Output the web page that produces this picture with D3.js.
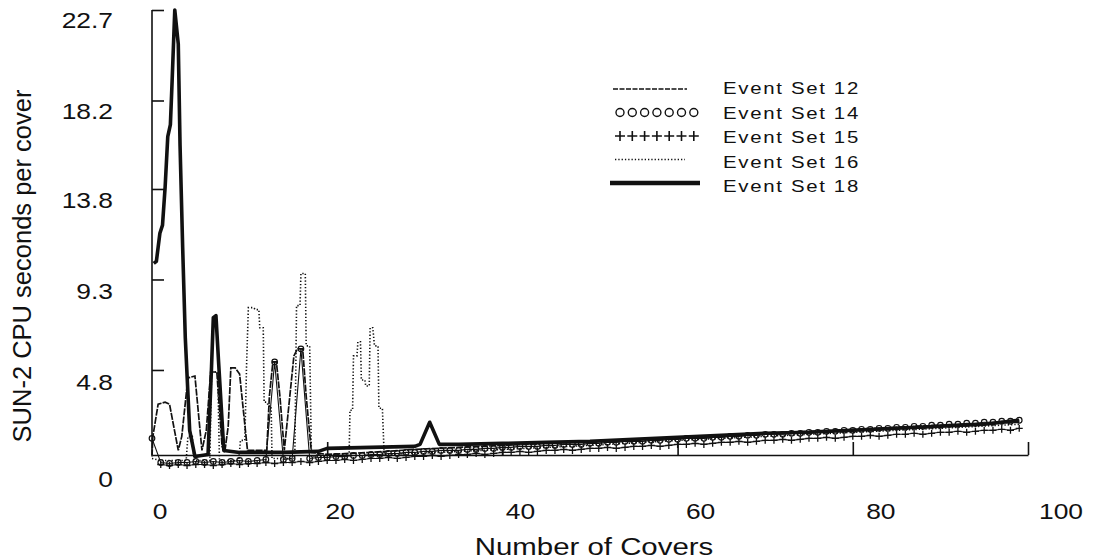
<!DOCTYPE html>
<html>
<head>
<meta charset="utf-8">
<script src="https://cdn.jsdelivr.net/npm/d3@7"></script>
<style>
body { margin: 0; background: #fff; }
svg text { font-family: "Liberation Sans", Arial, sans-serif; fill: #111; }
</style>
</head>
<body>
<svg id="chart" width="1099" height="560"></svg>
<script>
// values (covers, CPU seconds per cover)
const seriesNames = ["Event Set 12", "Event Set 14", "Event Set 15", "Event Set 16", "Event Set 18"];
const xTicks = [0, 20, 40, 60, 80, 100];
const yTicks = [0, 4.8, 9.3, 13.8, 18.2, 22.7];

const es12Covers = [0, 0.1, 0.7, 1.5, 2.0, 3.0, 3.4, 4.1, 4.9, 5.7, 6.2, 6.7, 7.4, 8.0, 8.3, 8.7, 9.0, 9.5, 10.0, 10.9,
  13.1, 13.4, 13.8, 14.2, 14.6, 15.1, 15.5, 16.2, 16.6, 17.2, 17.6, 18.2,
  20, 25, 30, 35, 40, 45, 50, 55, 60, 65, 70, 75, 80, 85, 90, 95, 99];
const es12Values = [0.5, 1.5, 3.1, 3.2, 3.1, 0.8, 1.5, 4.4, 4.5, 0.8, 1.8, 4.7, 4.7, 1.0, 0.7, 2.0, 4.9, 4.9, 4.6, 0.8,
  0.8, 3.5, 5.2, 5.2, 3.5, 0.8, 2.5, 5.5, 5.85, 5.85, 3.5, 0.7,
  0.6, 0.7, 0.85, 0.95, 1.05, 1.15, 1.25, 1.35, 1.45, 1.55, 1.65, 1.75, 1.85, 1.95, 2.05, 2.15, 2.2];

const es14Covers = d3.range(0, 100);
const es14Values = [1.4,
  0.2, 0.15, 0.2, 0.2, 0.25, 0.2, 0.25, 0.2, 0.25, 0.3,
  0.25, 0.3, 0.35, 5.2, 0.35, 0.4, 5.85, 0.4, 0.45, 0.45,
  0.5, 0.5, 0.55, 0.55, 0.6, 0.6, 0.65, 0.65, 0.7, 0.7,
  0.75, 0.75, 0.8, 0.8, 0.8, 0.85, 0.85, 0.9, 0.9, 0.95,
  0.95, 1.0, 1.0, 1.0, 1.05, 1.05, 1.1, 1.1, 1.1, 1.15,
  1.15, 1.2, 1.2, 1.25, 1.25, 1.25, 1.3, 1.3, 1.35, 1.35,
  1.4, 1.4, 1.4, 1.45, 1.45, 1.5, 1.5, 1.55, 1.55, 1.6,
  1.6, 1.6, 1.65, 1.65, 1.7, 1.7, 1.75, 1.75, 1.8, 1.8,
  1.85, 1.85, 1.9, 1.9, 1.95, 1.95, 2.0, 2.0, 2.05, 2.05,
  2.1, 2.1, 2.15, 2.15, 2.2, 2.2, 2.25, 2.25, 2.3];

const es15Covers = d3.range(1, 100);
const es15Values = [
  0.1, 0.05, 0.1, 0.05, 0.1, 0.1, 0.05, 0.1, 0.15, 0.1,
  0.15, 0.15, 0.2, 0.15, 0.2, 0.2, 0.25, 0.2, 0.25, 0.3,
  0.3, 0.35, 0.3, 0.35, 0.4, 0.4, 0.45, 0.4, 0.45, 0.5,
  0.5, 0.55, 0.5, 0.55, 0.6, 0.6, 0.65, 0.6, 0.65, 0.7,
  0.7, 0.75, 0.7, 0.75, 0.8, 0.8, 0.85, 0.8, 0.85, 0.9,
  0.9, 0.95, 0.9, 0.95, 1.0, 1.0, 1.05, 1.0, 1.05, 1.1,
  1.1, 1.15, 1.1, 1.15, 1.2, 1.2, 1.25, 1.2, 1.25, 1.3,
  1.3, 1.35, 1.3, 1.35, 1.4, 1.4, 1.45, 1.4, 1.45, 1.5,
  1.5, 1.55, 1.5, 1.55, 1.6, 1.6, 1.65, 1.6, 1.65, 1.7,
  1.7, 1.75, 1.7, 1.75, 1.8, 1.8, 1.85, 1.8, 1.9];

const es16Covers = [0, 1, 2, 3.9, 4.1, 4.6, 4.8, 6.6, 6.8, 7.5, 7.7, 9.9, 10.1, 10.6, 10.8, 11.0, 11.6, 11.8, 12.2, 12.3,
  12.7, 12.8, 13.1, 13.3, 13.6, 13.7, 16.3, 16.5, 16.9, 17.0, 17.5, 17.6, 18.0, 18.2,
  22.5, 22.6, 22.9, 23.0, 23.4, 23.5, 23.8, 23.9, 24.3, 24.4, 24.8, 24.9, 25.2, 25.4, 25.8, 25.9, 26.3, 26.5,
  30, 40, 50, 60, 70, 80, 90, 99];
const es16Values = [0.4, 0.3, 0.3, 0.3, 1.5, 1.5, 0.3, 0.3, 4.7, 4.7, 0.3, 0.3, 1.3, 1.3, 5.1, 7.9, 7.9, 7.8, 7.8, 6.9,
  6.9, 3.2, 3.2, 3.0, 3.0, 0.4, 0.4, 8.0, 8.0, 9.6, 9.6, 6.0, 6.0, 0.5,
  0.5, 2.8, 2.8, 5.5, 5.5, 6.2, 6.2, 4.3, 4.3, 4.0, 4.0, 6.9, 6.9, 6.0, 6.0, 2.9, 2.9, 0.6,
  0.65, 0.85, 1.05, 1.3, 1.5, 1.7, 1.9, 2.1];

const es18Covers = [0.2, 0.5, 0.9, 1.2, 1.5, 1.8, 2.1, 2.3, 2.6, 3.0, 3.2, 3.5, 3.8, 4.3, 4.9,
  6.4, 6.8, 7.0, 7.3, 7.6, 8.2, 10, 15, 19, 20, 25, 30, 30.6, 31.7, 32.8, 35,
  40, 45, 50, 55, 60, 65, 70, 75, 80, 85, 90, 95, 99];
const es18Values = [10.1, 10.2, 11.6, 12.0, 13.9, 16.4, 17.0, 19.2, 22.7, 21.0, 16.0, 10.9, 6.4, 1.8, 0.5,
  0.6, 5.0, 7.4, 7.5, 5.2, 0.8, 0.7, 0.7, 0.75, 0.9, 0.95, 1.0, 1.1, 2.2, 1.1, 1.1,
  1.15, 1.2, 1.25, 1.35, 1.45, 1.55, 1.65, 1.7, 1.8, 1.9, 2.0, 2.1, 2.3];

const svg = d3.select("#chart");

const x = d3.scaleLinear().domain([0, 100]).range([152, 1028]);
const y = d3.scaleLinear().domain([0, 22.7]).range([466.5, 10]);
// the printed tick labels sit slightly off their ticks in the scan
const xLabel = d3.scaleLinear().domain([0, 100]).range([160, 1061]);
const yLabel = d3.scaleLinear().domain([0, 22.7]).range([487, 28]);

function stretched(g, tx, ty, str, size, anchor) {
  return g.append("text")
    .attr("transform", `translate(${tx},${ty}) scale(1.2,1)`)
    .attr("text-anchor", anchor)
    .style("font-size", size + "px")
    .text(str);
}

// axes
const yAxis = svg.append("g")
  .attr("transform", `translate(${x(0)},0)`)
  .call(d3.axisLeft(y).tickValues(yTicks.slice(1)).tickSizeInner(-12).tickSizeOuter(0).tickFormat(""));
yAxis.select(".domain").attr("d", `M0,${y(22.7)}V455`);

const xAxis = svg.append("g")
  .attr("transform", "translate(0,455)")
  .call(d3.axisBottom(x).tickValues(xTicks.slice(1)).tickSizeInner(-13).tickSizeOuter(0).tickFormat(""));

svg.selectAll(".domain, .tick line").attr("stroke", "#111").attr("stroke-width", 1.6);

const labels = svg.append("g");
yTicks.forEach(v => stretched(labels, 113, yLabel(v), String(v), 22, "end"));
xTicks.forEach(v => stretched(labels, xLabel(v), 519, String(v), 22, "middle"));
stretched(labels, 594, 555, "Number of Covers", 24.5, "middle");
labels.append("text")
  .attr("transform", "translate(31,266) rotate(-90)")
  .attr("text-anchor", "middle")
  .style("font-size", "25.5px")
  .text("SUN-2 CPU seconds per cover");

// series
const line = d3.line().x(d => x(d[0])).y(d => y(d[1]));
const plot = svg.append("g");
const dash12 = "7,1.2";

plot.append("path").datum(d3.zip(es12Covers, es12Values))
  .attr("d", line).attr("fill", "none").attr("stroke", "#111")
  .attr("stroke-width", 1.7).attr("stroke-dasharray", dash12);

plot.append("path").datum(d3.zip(es16Covers, es16Values))
  .attr("d", line).attr("fill", "none").attr("stroke", "#111")
  .attr("stroke-width", 1.6).attr("stroke-dasharray", "1.3,2");

const es15 = d3.zip(es15Covers, es15Values);
plot.append("path").datum(es15)
  .attr("d", line).attr("fill", "none").attr("stroke", "#111").attr("stroke-width", 1.1);
plot.append("g").selectAll("path").data(es15).join("path")
  .attr("d", d => `M${x(d[0]) - 3.5},${y(d[1])}h7M${x(d[0])},${y(d[1]) - 3.5}v7`)
  .attr("stroke", "#111").attr("stroke-width", 1.3);

const es14 = d3.zip(es14Covers, es14Values);
plot.append("path").datum(es14)
  .attr("d", line).attr("fill", "none").attr("stroke", "#111").attr("stroke-width", 1.1);
plot.append("g").selectAll("circle").data(es14).join("circle")
  .attr("cx", d => x(d[0])).attr("cy", d => y(d[1])).attr("r", 2.8)
  .attr("fill", "none").attr("stroke", "#111").attr("stroke-width", 1.2);

plot.append("path").datum(d3.zip(es18Covers, es18Values))
  .attr("d", line).attr("fill", "none").attr("stroke", "#111")
  .attr("stroke-width", 3.6).attr("stroke-linejoin", "round");

// legend
const legend = svg.append("g");
const rowY = d => 89 + d * 24.5;
seriesNames.forEach((name, i) => {
  stretched(legend, 723, rowY(i) + 5, name, 17, "start").style("letter-spacing", "1.4px");
});
legend.append("line").attr("x1", 613).attr("x2", 687).attr("y1", rowY(0)).attr("y2", rowY(0))
  .attr("stroke", "#111").attr("stroke-width", 1.4).attr("stroke-dasharray", "5,1.5");
const marks = d3.range(7);
legend.append("g").selectAll("circle").data(marks).join("circle")
  .attr("cx", d => 620 + d * 12.3).attr("cy", rowY(1) - 1).attr("r", 4)
  .attr("fill", "none").attr("stroke", "#111").attr("stroke-width", 1.4);
legend.append("g").selectAll("path").data(marks).join("path")
  .attr("d", d => `M${620 + d * 12.3 - 5},${rowY(2) - 2}h10M${620 + d * 12.3},${rowY(2) - 7}v10`)
  .attr("stroke", "#111").attr("stroke-width", 1.6);
legend.append("line").attr("x1", 615).attr("x2", 685).attr("y1", rowY(3) - 3).attr("y2", rowY(3) - 3)
  .attr("stroke", "#111").attr("stroke-width", 1.6).attr("stroke-dasharray", "1.3,2");
legend.append("line").attr("x1", 610).attr("x2", 700).attr("y1", rowY(4) - 4).attr("y2", rowY(4) - 4)
  .attr("stroke", "#111").attr("stroke-width", 4.5);
</script>
</body>
</html>
